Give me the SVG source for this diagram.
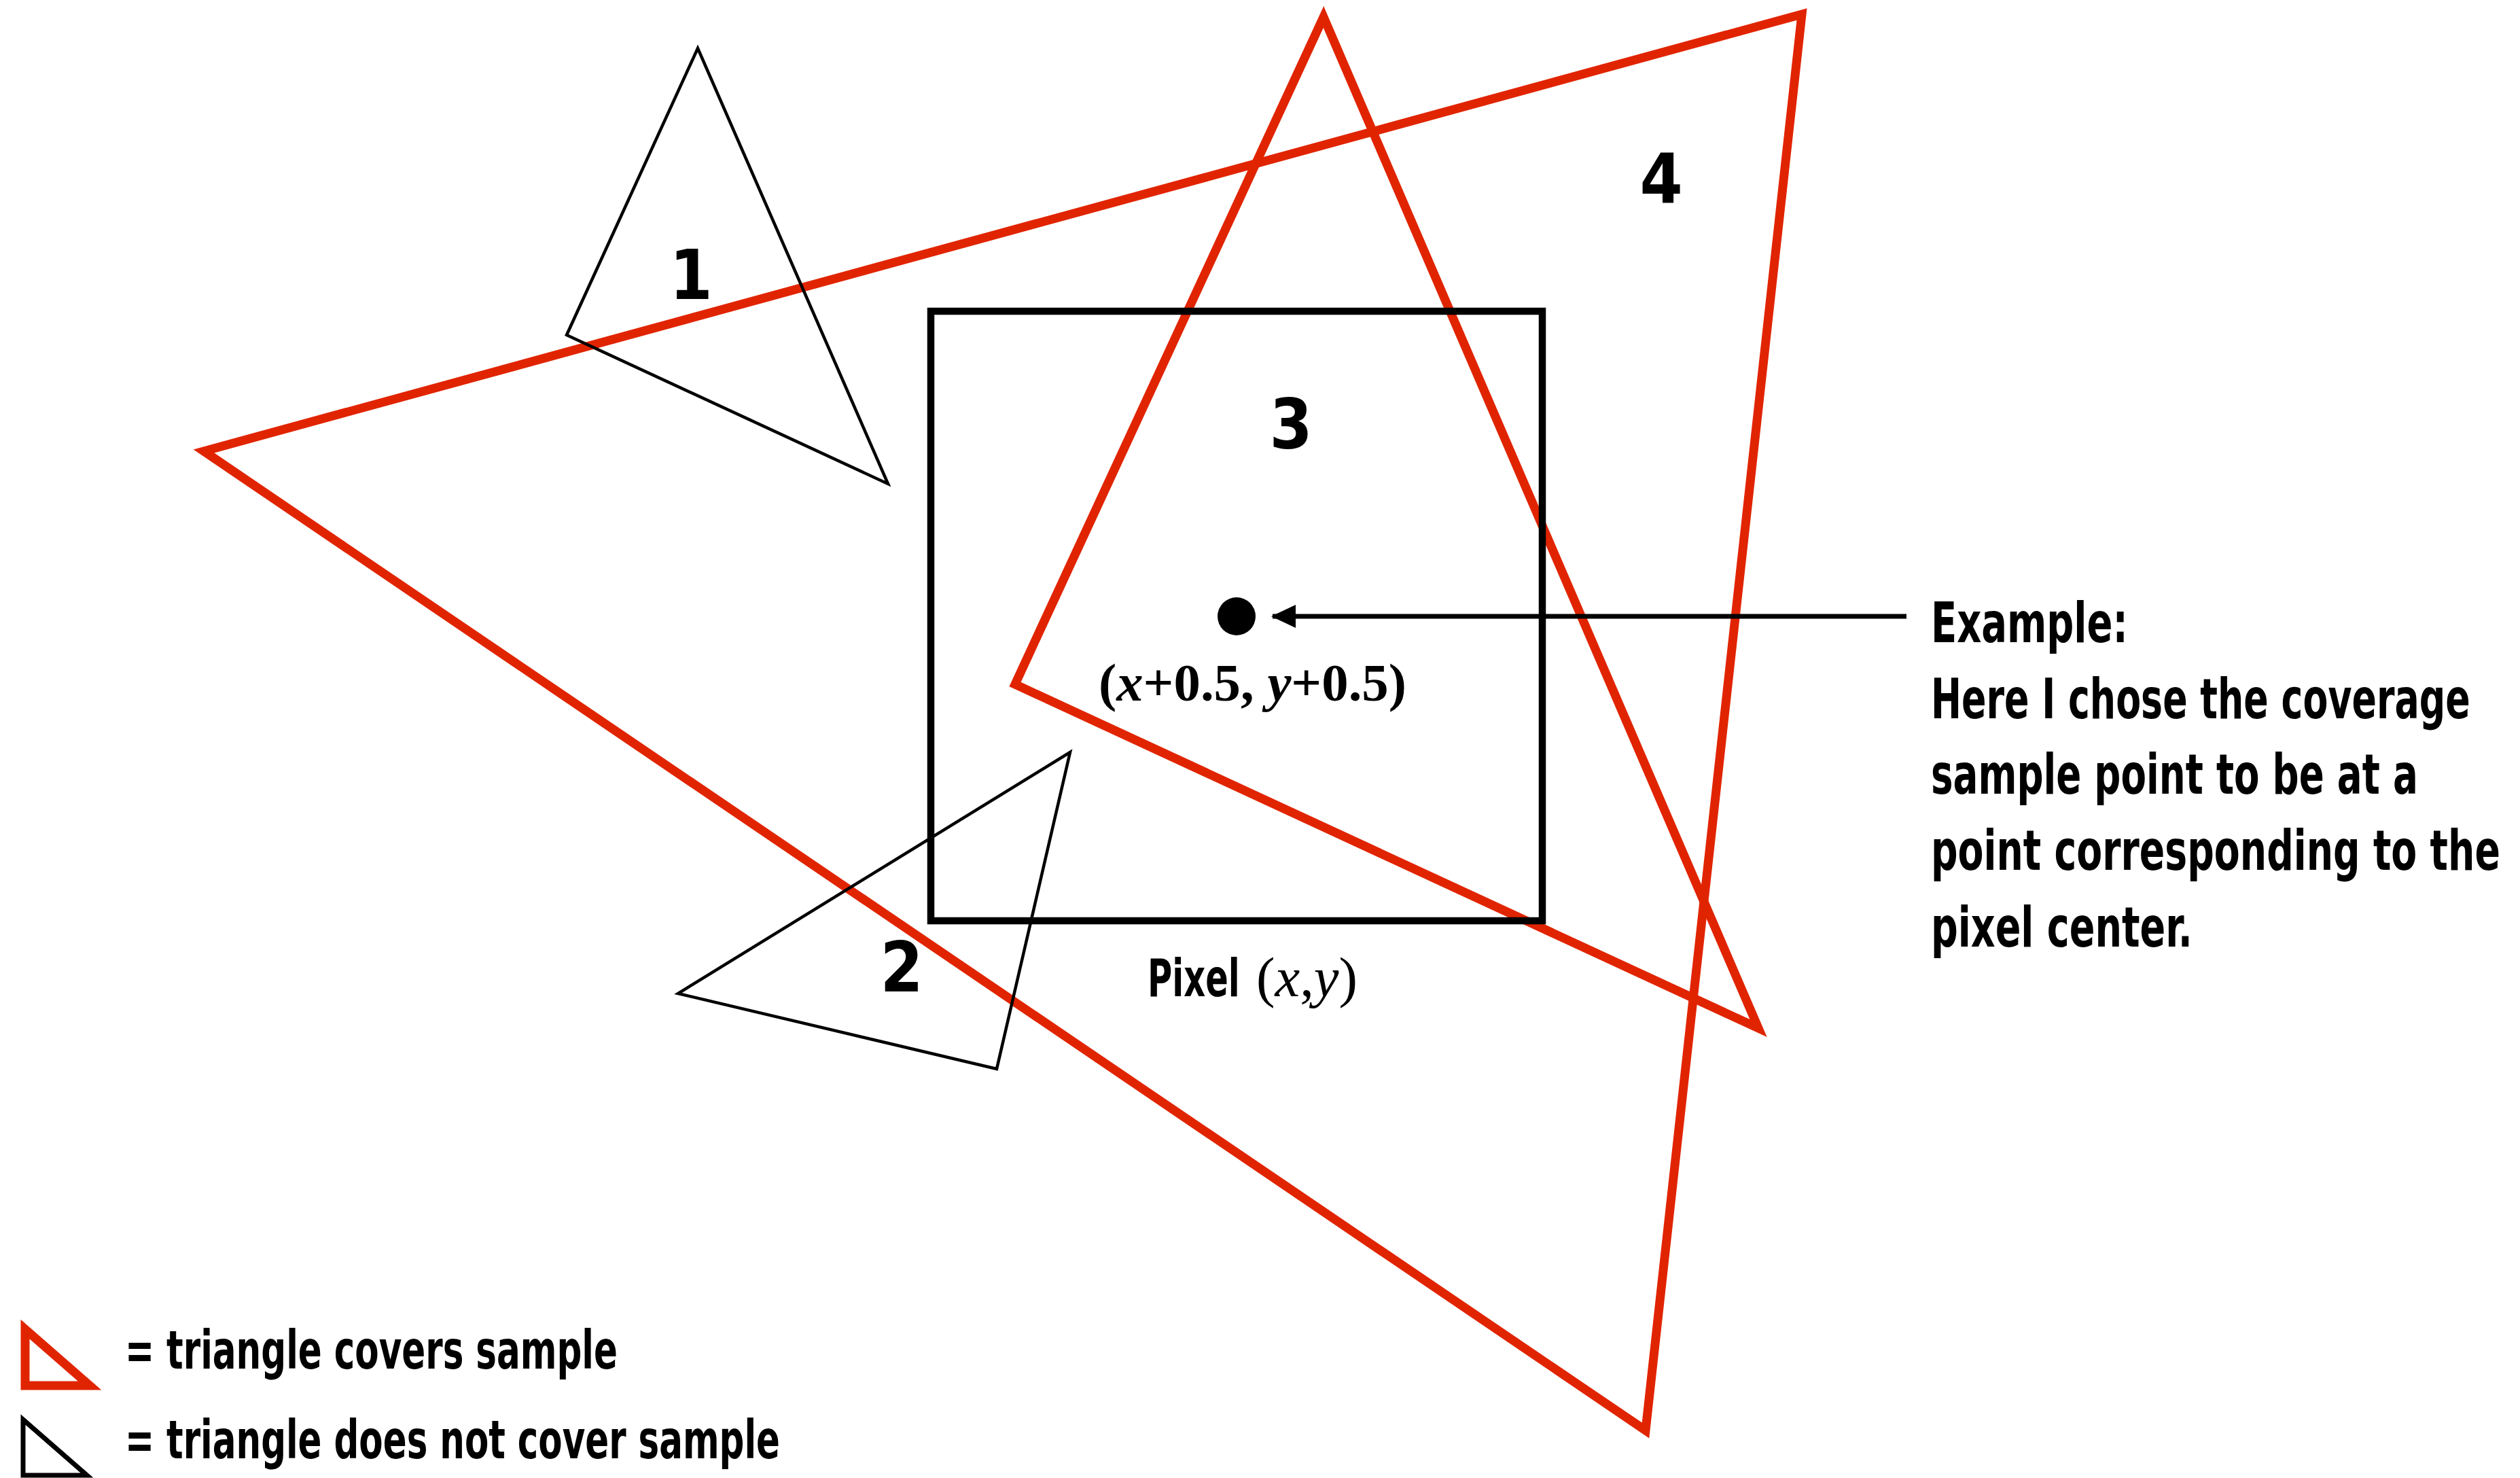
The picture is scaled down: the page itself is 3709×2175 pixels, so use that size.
<svg xmlns="http://www.w3.org/2000/svg" width="3709" height="2175" viewBox="0 0 3709 2175">
<defs>
<style>
.red{fill:none;stroke:#E12400;stroke-width:13;stroke-linejoin:miter;stroke-miterlimit:20}
.thin{fill:none;stroke:#000;stroke-width:4.5;stroke-linejoin:miter;stroke-miterlimit:20}
.sq{fill:none;stroke:#000;stroke-width:10.5;stroke-linejoin:miter}
.sans{font-family:"DejaVu Sans Condensed","DejaVu Sans","Liberation Sans",sans-serif;font-weight:bold;font-stretch:condensed;fill:#000}
.num{font-size:101px;text-anchor:middle}
.note{font-size:82px}
.leg{font-size:78px}
.serif{font-family:"Liberation Serif","Times New Roman",serif;fill:#000}
</style>
<marker id="arrowhead" viewBox="0 0 36 34" refX="34" refY="17" markerWidth="36" markerHeight="34" markerUnits="userSpaceOnUse" orient="auto">
<path d="M36,17 L0,0 L0,34 Z" fill="#000"/>
</marker>
</defs>
<rect width="3709" height="2175" fill="#fff"/>

<g id="triangle-4">
<polygon class="red" points="300,664 2652,21 2422,2105"/>
<text class="sans num" x="2445" y="299">4</text>
</g>

<g id="triangle-3">
<polygon class="red" points="1948,25 1494,1007 2588,1513"/>
<text class="sans num" x="1900" y="660">3</text>
</g>

<g id="triangle-1">
<polygon class="thin" points="1027,71 834,493 1307,712"/>
<text class="sans num" x="1017" y="440">1</text>
</g>

<g id="triangle-2">
<polygon class="thin" points="1575,1107 998,1462 1467,1573"/>
<text class="sans num" x="1327" y="1459">2</text>
</g>

<g id="pixel">
<rect class="sq" x="1370" y="458" width="900" height="897"/>
<text class="sans" transform="translate(1689,1466) scale(0.75,1)" x="0" y="0" font-size="77" textLength="181" lengthAdjust="spacingAndGlyphs">Pixel</text>
<text class="serif" x="1849" y="1466" font-size="82" textLength="149" lengthAdjust="spacingAndGlyphs">(<tspan font-style="italic">x</tspan>,<tspan font-style="italic">y</tspan>)</text>
</g>

<g id="sample-point">
<circle cx="1820" cy="907" r="28" fill="#000"/>
<text class="serif" x="1617" y="1031" font-size="78" font-weight="bold" textLength="453" lengthAdjust="spacingAndGlyphs">(<tspan font-style="italic">x</tspan>+0.5, <tspan font-style="italic">y</tspan>+0.5)</text>
</g>

<g id="example-note" transform="translate(2842,0) scale(0.7,1)">
<text class="sans note" x="0" y="945" textLength="414" lengthAdjust="spacingAndGlyphs">Example:</text>
<text class="sans note" x="0" y="1057" textLength="1134" lengthAdjust="spacingAndGlyphs">Here I chose the coverage</text>
<text class="sans note" x="0" y="1168" textLength="1024" lengthAdjust="spacingAndGlyphs">sample point to be at a</text>
<text class="sans note" x="0" y="1280" textLength="1197" lengthAdjust="spacingAndGlyphs">point corresponding to the</text>
<text class="sans note" x="0" y="1393" textLength="550" lengthAdjust="spacingAndGlyphs">pixel center.</text>
</g>

<g id="connectors">
<line x1="2806" y1="907" x2="1873" y2="907" stroke="#000" stroke-width="7" marker-end="url(#arrowhead)"/>
</g>

<g id="legend-covers">
<polygon class="red" points="37,1956 37,2039 132,2039"/>
<text class="sans leg" x="184" y="2014" textLength="725" lengthAdjust="spacingAndGlyphs">= triangle covers sample</text>
</g>

<g id="legend-not-covers">
<polygon fill="none" stroke="#000" stroke-width="7" stroke-miterlimit="20" points="34,2089 34,2171 128,2171"/>
<text class="sans leg" x="184" y="2146" textLength="964" lengthAdjust="spacingAndGlyphs">= triangle does not cover sample</text>
</g>
</svg>
